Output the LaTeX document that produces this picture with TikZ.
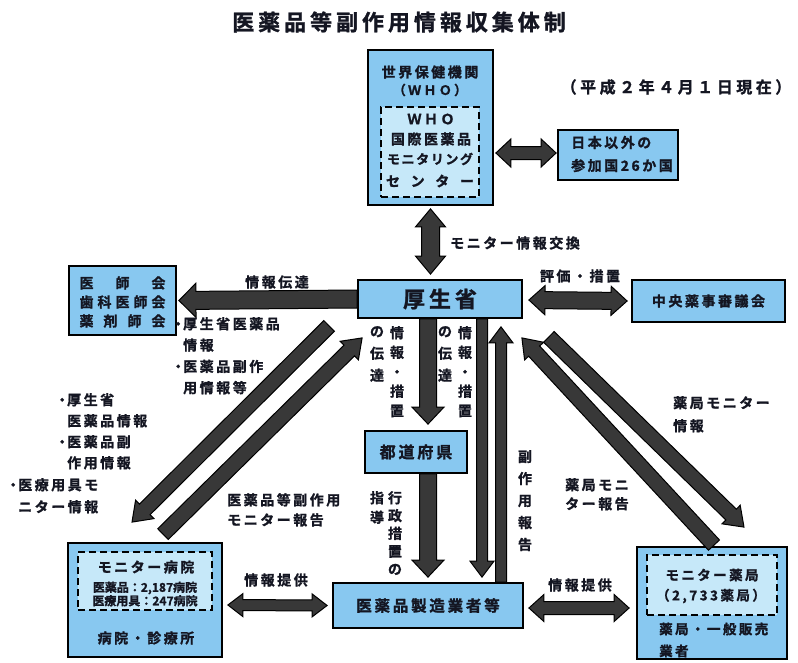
\documentclass[tikz,border=0pt]{standalone}
\usepackage{fontspec}
\setmainfont{Noto Sans CJK JP}[BoldFont={Noto Sans CJK JP Bold},BoldFeatures={FakeBold=1.3}]
\newfontfamily\jpt{Noto Sans CJK JP}[BoldFont={Noto Sans CJK JP Bold},BoldFeatures={FakeBold=1.3},LetterSpace=18]
\newfontfamily\jpn{Noto Sans CJK JP}[BoldFont={Noto Sans CJK JP Bold},BoldFeatures={FakeBold=1.3}]
\usetikzlibrary{calc}
\definecolor{boxblue}{RGB}{136,200,240}
\definecolor{innerblue}{RGB}{198,232,249}
\definecolor{arrowgray}{RGB}{56,56,56}
\definecolor{ink}{RGB}{20,22,34}
\newcommand\fs[2]{\fontsize{#1}{#2}\selectfont}

% fat single-headed arrow: start, tip, shaft half width, head half width, head length
\newcommand\fatarrow[5]{%
  \coordinate (faS) at #1;
  \coordinate (faE) at #2;
  \coordinate (faC) at ($(faE)!#5!(faS)$);
  \filldraw[fatarr] ($(faS)!#3!90:(faE)$) -- ($(faC)!#3!90:(faE)$)
    -- ($(faC)!#4!90:(faE)$) -- (faE) -- ($(faC)!#4!-90:(faE)$)
    -- ($(faC)!#3!-90:(faE)$) -- ($(faS)!#3!-90:(faE)$) -- cycle;}
% fat double-headed arrow
\newcommand\fatdarrow[5]{%
  \coordinate (faS) at #1;
  \coordinate (faE) at #2;
  \coordinate (faC) at ($(faE)!#5!(faS)$);
  \coordinate (faD) at ($(faS)!#5!(faE)$);
  \filldraw[fatarr] (faS) -- ($(faD)!#4!90:(faE)$) -- ($(faD)!#3!90:(faE)$)
    -- ($(faC)!#3!90:(faE)$) -- ($(faC)!#4!90:(faE)$) -- (faE)
    -- ($(faC)!#4!-90:(faE)$) -- ($(faC)!#3!-90:(faE)$)
    -- ($(faD)!#3!-90:(faE)$) -- ($(faD)!#4!-90:(faE)$) -- cycle;}

\tikzset{
  box/.style={draw=black, line width=1.8pt, fill=boxblue, inner sep=0pt,
    text=ink, font=\jpt\bfseries\fs{14}{20}},
  inbox/.style={draw=black, line width=1.8pt, dash pattern=on 7pt off 4pt,
    fill=innerblue, inner sep=0pt},
  lbl/.style={inner sep=0pt, text=ink, font=\jpt\bfseries\fs{14}{20}},
  vlbl/.style={inner sep=0pt, text=ink, align=center, anchor=north},
  fatarr/.style={fill=arrowgray, draw=black, line width=1pt, line join=miter},
}

\begin{document}
\begin{tikzpicture}[x=1pt,y=-1pt]
\useasboundingbox[fill=white] (0,0) rectangle (798,662);

% title and date
\node[lbl, font=\jpt\bfseries\fs{22}{24}] (title) at (399,22) {医薬品等副作用情報収集体制};
\node[lbl, font=\jpt\bfseries\fs{16}{18}\addfontfeature{LetterSpace=22}] (date) at (676,87) {（平成２年４月１日現在）};

% WHO
\node[box, minimum width=125pt, minimum height=155pt] (who) at (430.5,127.5) {};
\node[inbox, minimum width=98pt, minimum height=90pt] (whoc) at (430,152) {};
\node[lbl] (who1) at (430,72) {世界保健機関};
\node[lbl, font=\jpt\bfseries\fs{13}{16}] (who2) at (430,90) {（ＷＨＯ）};
\node[lbl] (who3) at (431,119) {ＷＨＯ};
\node[lbl] (who4) at (431,139) {国際医薬品};
\node[lbl, font=\jpn\bfseries\fs{13}{16}] (who5) at (430,159) {\makebox[86pt]{モ\hfill ニ\hfill タ\hfill リ\hfill ン\hfill グ}};
\node[lbl, font=\jpn\bfseries\fs{14}{16}] (who6) at (430,181) {\makebox[88pt]{セ\hfill ン\hfill タ\hfill ー}};

\node[box, minimum width=120pt, minimum height=50pt] (nihon) at (618,155) {};
\node[lbl, align=left, anchor=west, font=\jpt\bfseries\fs{14}{23}] (nihont) at (571,154) {日本以外の\\参加国26か国};

% ministry row
\node[box, minimum width=164pt, minimum height=38pt, font=\jpt\bfseries\fs{22}{24}] (ksh) at (440,299) {厚生省};
\node[box, minimum width=153pt, minimum height=42pt] (chuo) at (708.5,301) {中央薬事審議会};
\node[box, minimum width=107pt, minimum height=69pt] (ishi) at (122.5,300.5) {};
\node[lbl, align=center, font=\jpn\bfseries\fs{14}{19}] (ishit) at (122.5,302) {%
  \makebox[86pt]{医\hfill 師\hfill 会}\\
  \makebox[86pt]{歯\hfill 科\hfill 医\hfill 師\hfill 会}\\
  \makebox[86pt]{薬\hfill 剤\hfill 師\hfill 会}};

% prefecture, manufacturers
\node[box, minimum width=102pt, minimum height=42pt, font=\jpt\bfseries\fs{16}{18}] (pref) at (416,452) {都道府県};
\node[box, minimum width=190pt, minimum height=45pt, font=\jpt\bfseries\fs{15.5}{18}] (maker) at (428,605.5) {医薬品製造業者等};

% hospitals
\node[box, minimum width=154pt, minimum height=114pt] (hosp) at (145,600) {};
\node[inbox, minimum width=134pt, minimum height=58pt] (hospm) at (145,581) {};
\node[lbl] (hosp1) at (146,567) {モニター病院};
\node[lbl, align=center, font=\jpn\bfseries\fs{12}{13.5}] (hosp2) at (145,594) {医薬品：2,187病院\\医療用具：247病院};
\node[lbl] (hosp3) at (146,638) {病院・診療所};

% pharmacies
\node[box, minimum width=150pt, minimum height=112pt] (ph) at (712,603) {};
\node[inbox, minimum width=130pt, minimum height=60pt] (phm) at (712,585) {};
\node[lbl, font=\jpt\bfseries\fs{13.5}{16}] (ph1) at (712,575) {モニター薬局};
\node[lbl, font=\jpt\bfseries\fs{13.5}{16}] (ph2) at (711,596) {（2,733薬局）};
\node[lbl, align=left, anchor=west, font=\jpt\bfseries\fs{13.5}{22}] (ph3) at (659,640) {薬局・一般販売\\業者};

% arrows between boxes
\fatdarrow{($(who.east |- nihon.west)+(2,-2)$)}{($(nihon.west)+(-1,-2)$)}{6.5pt}{14pt}{15pt}
\fatdarrow{($(who.south)+(0,3)$)}{($(who.south |- ksh.north)+(0,-5)$)}{9pt}{15pt}{18pt}
\fatdarrow{($(ksh.east)+(6,1)$)}{($(chuo.west)+(-4,0)$)}{8.5pt}{14.5pt}{16pt}
\fatarrow{(ksh.west)}{($(ishi.east)+(2,0)$)}{9pt}{17pt}{17pt}

\coordinate (aS) at ($(ksh.south west)+(-28,7)$);
\coordinate (aE) at ($(hosp.north)+(-13,-20)$);
\coordinate (bS) at ($(hosp.north)+(18,-8)$);
\coordinate (bE) at ($(ksh.south west)+(5,19)$);
\coordinate (cS) at ($(ph.north)+(2,-1)$);
\coordinate (cE) at ($(ksh.south east)+(-1,19)$);
\coordinate (dS) at ($(ksh.south east)+(26,18)$);
\coordinate (dE) at ($(ph.north)+(32,-19)$);
\fatarrow{(aS)}{(aE)}{7.5pt}{13pt}{18pt}
\fatarrow{(bS)}{(bE)}{7.5pt}{13pt}{18pt}
\fatarrow{(cS)}{(cE)}{7.5pt}{13pt}{18pt}
\fatarrow{(dS)}{(dE)}{7.5pt}{13pt}{18pt}

\fatarrow{($(ksh.south)+(-12,0)$)}{($(pref.north)+(12,-6)$)}{8.5pt}{16pt}{17pt}
\fatarrow{($(pref.south)+(12,0)$)}{($(maker.north)+(0,-5)$)}{8.5pt}{16pt}{17pt}
\fatarrow{($(ksh.south)+(42,0)$)}{($(maker.north)+(54,-5)$)}{5.5pt}{12pt}{16pt}
\fatarrow{($(maker.north)+(73,0)$)}{($(ksh.south)+(61,8)$)}{5.5pt}{12pt}{16pt}

\fatdarrow{($(hosp.east)+(5,5)$)}{($(maker.west)+(-5,0)$)}{5.5pt}{11.5pt}{15pt}
\fatdarrow{($(maker.east)+(5,2.5)$)}{($(ph.west)+(-7,5)$)}{6.5pt}{13.5pt}{15pt}

% arrow labels
\node[lbl, anchor=west] (lx) at (450,243) {モニター情報交換};
\node[lbl] (lh) at (580,276) {評価・措置};
\node[lbl] (ld) at (277,282) {情報伝達};
\node[lbl, align=left, anchor=north west, font=\jpt\bfseries\fs{14}{21.3}] (n1) at (173,317) {%
  \makebox[10pt]{・}厚生省医薬品\\\hspace*{10pt}情報\\\makebox[10pt]{・}医薬品副作\\\hspace*{10pt}用情報等};
\node[lbl, align=left, anchor=north west, font=\jpt\bfseries\fs{14}{21}] (n2) at (57,393) {%
  \makebox[10pt]{・}厚生省\\\hspace*{10pt}医薬品情報\\\makebox[10pt]{・}医薬品副\\\hspace*{10pt}作用情報};
\node[lbl, align=left, anchor=north west, font=\jpt\bfseries\fs{14}{22}] (n3) at (8,478) {%
  \makebox[10pt]{・}医療用具モ\\\hspace*{10pt}ニター情報};
\node[lbl, align=left, anchor=north west, font=\jpt\bfseries\fs{14}{20}] (n4) at (227,493) {医薬品等副作用\\モニター報告};
\node[lbl, align=left, anchor=north west, font=\jpt\bfseries\fs{14}{23}] (n5) at (673,396) {薬局モニター\\情報};
\node[lbl, align=left, anchor=north west, font=\jpt\bfseries\fs{14}{19}] (n6) at (565,478) {薬局モニ\\ター報告};
\node[lbl] (lp1) at (276,580) {情報提供};
\node[lbl] (lp2) at (580,585) {情報提供};

% vertical labels
\node[vlbl, font=\jpn\bfseries\fs{14}{19.5}] (v1) at (397,326) {情\\報\\・\\措\\置};
\node[vlbl, font=\jpn\bfseries\fs{14}{22}] (v2) at (377,326) {の\\伝\\達};
\node[vlbl, font=\jpn\bfseries\fs{14}{19.5}] (v3) at (465,326) {情\\報\\・\\措\\置};
\node[vlbl, font=\jpn\bfseries\fs{14}{22}] (v4) at (445,326) {の\\伝\\達};
\node[vlbl, font=\jpn\bfseries\fs{14}{22}] (v5) at (525,450) {副\\作\\用\\報\\告};
\node[vlbl, font=\jpn\bfseries\fs{14}{17.8}] (v6) at (395,491) {行\\政\\措\\置\\の};
\node[vlbl, font=\jpn\bfseries\fs{14}{19.5}] (v7) at (377,491) {指\\導};
\end{tikzpicture}
\end{document}
